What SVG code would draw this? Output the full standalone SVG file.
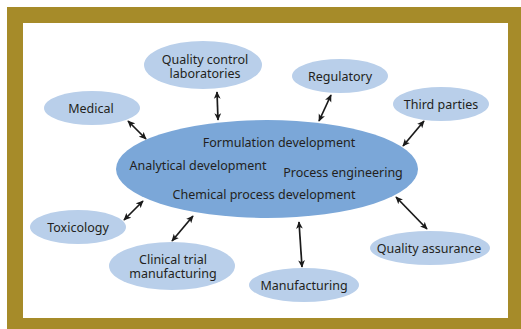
<svg xmlns="http://www.w3.org/2000/svg" width="521" height="329" viewBox="0 0 521 329">
<style>
.sat{fill:#B9CFEA;}
.core{fill:#7BA7D8;}
text{font-family:"Noto Sans","Liberation Sans",Arial,sans-serif;font-size:12.5px;fill:#231F20;text-anchor:middle;}
.conn line{stroke:#1a1a1a;stroke-width:1.7;marker-start:url(#ah);marker-end:url(#ah);}
</style>
<defs>
<marker id="ah" viewBox="0 0 10 10" refX="9" refY="5" markerWidth="7.5" markerHeight="7.5" orient="auto-start-reverse" markerUnits="userSpaceOnUse">
<path d="M0,0.5 L10,5 L0,9.5 L2.5,5 Z" fill="#1a1a1a"/>
</marker>
</defs>
<rect x="7" y="7" width="514" height="322" fill="#A68B29"/>
<rect x="23" y="23" width="485" height="295" fill="#ffffff"/>

<g id="core">
<ellipse class="core" cx="267" cy="169" rx="151" ry="49"/>
<text x="279" y="147">Formulation development</text>
<text x="198" y="170">Analytical development</text>
<text x="343" y="177">Process engineering</text>
<text x="264" y="199">Chemical process development</text>
</g>

<g id="qc">
<ellipse class="sat" cx="203" cy="65" rx="59" ry="24"/>
<text x="205" y="64">Quality control<tspan x="205" dy="13.5">laboratories</tspan></text>
</g>
<g id="medical">
<ellipse class="sat" cx="92" cy="108" rx="48" ry="17"/>
<text x="91" y="113">Medical</text>
</g>
<g id="regulatory">
<ellipse class="sat" cx="340" cy="76" rx="48" ry="17"/>
<text x="340" y="81">Regulatory</text>
</g>
<g id="third">
<ellipse class="sat" cx="441" cy="104" rx="48" ry="17"/>
<text x="441" y="109">Third parties</text>
</g>
<g id="toxicology">
<ellipse class="sat" cx="78" cy="227" rx="48" ry="17"/>
<text x="78" y="232">Toxicology</text>
</g>
<g id="clinical">
<ellipse class="sat" cx="172" cy="266" rx="63" ry="24"/>
<text x="173" y="264">Clinical trial<tspan x="173" dy="13.5">manufacturing</tspan></text>
</g>
<g id="qa">
<ellipse class="sat" cx="430" cy="248" rx="60" ry="17"/>
<text x="429" y="253">Quality assurance</text>
</g>
<g id="manufacturing">
<ellipse class="sat" cx="304" cy="285" rx="55" ry="17"/>
<text x="304" y="290">Manufacturing</text>
</g>

<g id="connectors" class="conn">
<line x1="128" y1="121" x2="146" y2="139"/>
<line x1="217" y1="92" x2="218" y2="120"/>
<line x1="331" y1="95" x2="319" y2="121"/>
<line x1="424" y1="121" x2="403" y2="146"/>
<line x1="143" y1="201" x2="124" y2="220"/>
<line x1="193" y1="216" x2="172" y2="241"/>
<line x1="299" y1="222" x2="302" y2="267"/>
<line x1="396" y1="197" x2="427" y2="229"/>
</g>
</svg>
